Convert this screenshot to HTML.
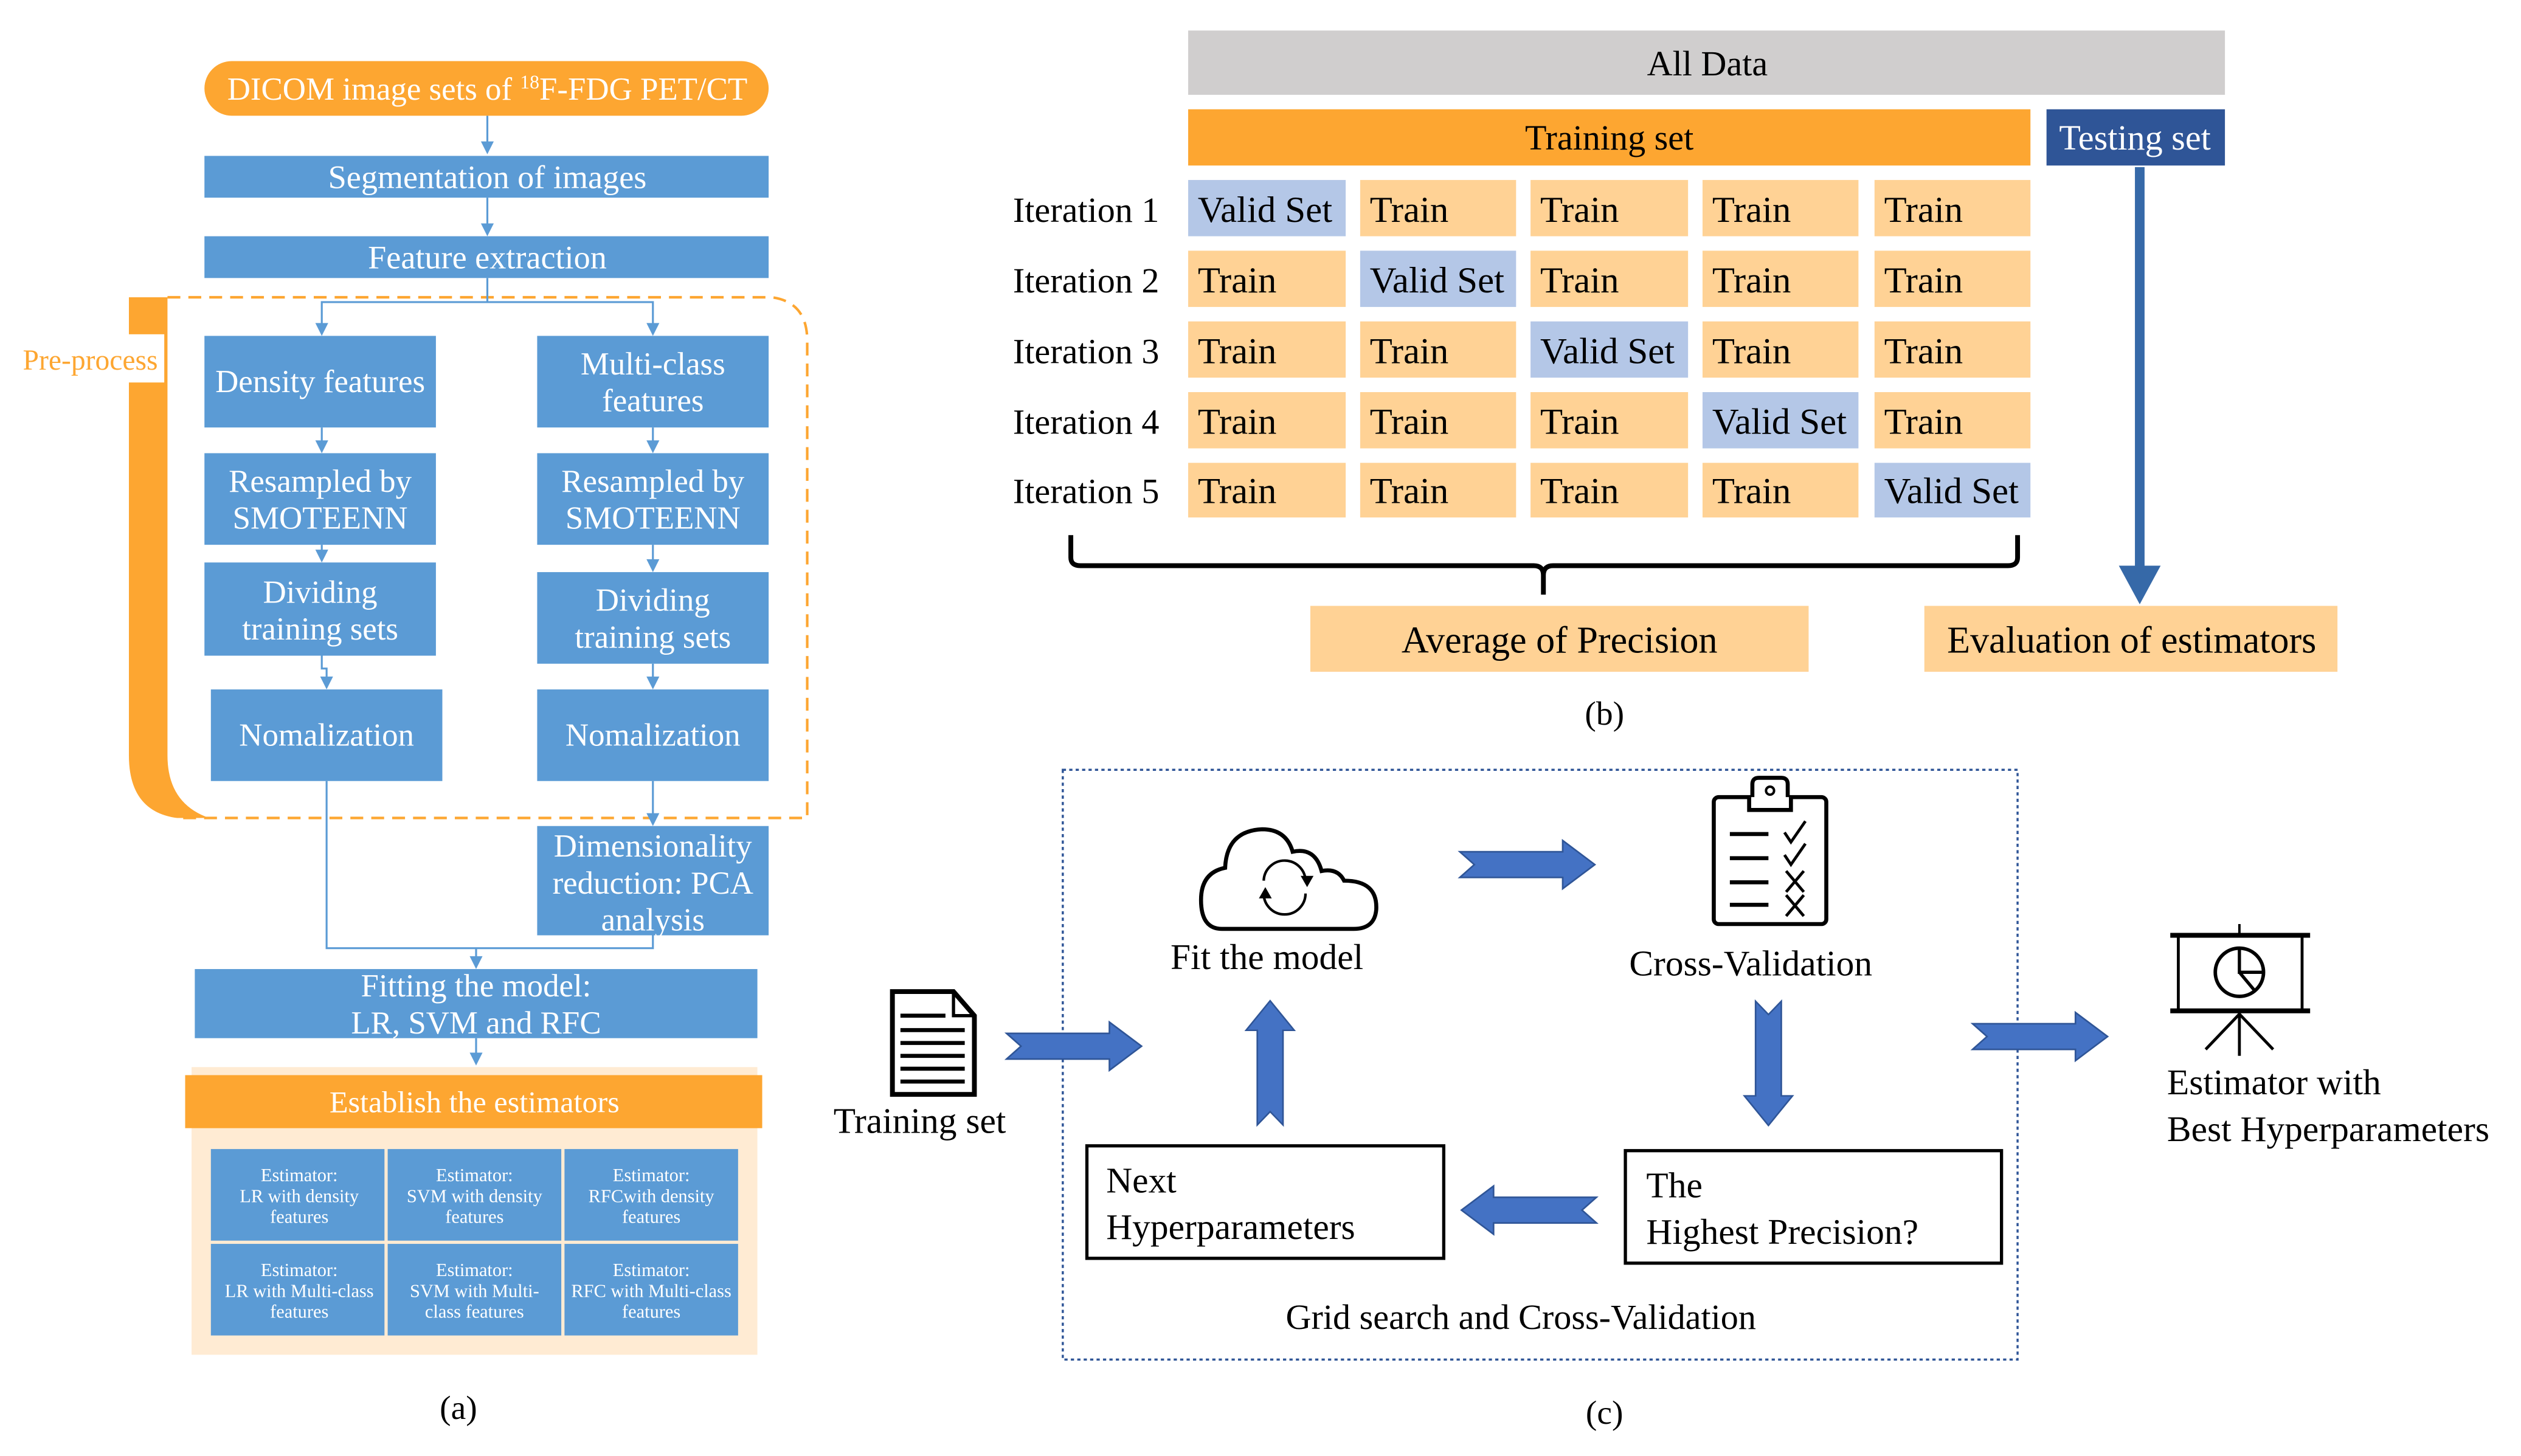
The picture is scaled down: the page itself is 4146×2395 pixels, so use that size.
<!DOCTYPE html>
<html><head><meta charset="utf-8"><style>
html,body{margin:0;padding:0;background:#fff;}
svg{display:block;}
.a{font-family:"Liberation Serif",serif;fill:#fff;text-anchor:middle;}
.b{font-family:"Liberation Serif",serif;fill:#000;}
</style></head><body>
<svg width="4146" height="2395" viewBox="0 0 1568 906" xmlns="http://www.w3.org/2000/svg">
<defs>
<path id="arr" d="M0,-8 L64,-8 L64,-15 L84,0 L64,15 L64,8 L0,8 L9,0 Z" fill="#4472C4" stroke="#2F5597" stroke-width="1"/>
</defs>

<!-- ===== Panel (a) ===== -->
<path d="M80,185 L104,185 L104,470 Q104,500 130,509 L110,509 Q80,505 80,470 Z" fill="#FDA631"/>
<path d="M104,185 L480,185 Q502,188 502,212 L502,509 L110,509" fill="none" stroke="#FDA631" stroke-width="1.6" stroke-dasharray="8,5"/>
<rect x="8" y="208" width="94" height="30" fill="#fff"/>
<text x="56" y="230" font-family="Liberation Serif,serif" font-size="18" fill="#FDA631" text-anchor="middle">Pre-process</text>

<g stroke="#5B9BD5" stroke-width="1.2" fill="none">
<line x1="303" y1="72" x2="303" y2="92"/>
<line x1="303" y1="123" x2="303" y2="142"/>
<polyline points="303,173 303,188 200,188 200,203"/>
<polyline points="303,188 406,188 406,203"/>
<line x1="200" y1="266" x2="200" y2="277"/>
<line x1="406" y1="266" x2="406" y2="277"/>
<line x1="200" y1="339" x2="200" y2="345"/>
<line x1="406" y1="339" x2="406" y2="351"/>
<polyline points="200,408 200,416 203,416 203,424"/>
<line x1="406" y1="413" x2="406" y2="424"/>
<line x1="406" y1="486" x2="406" y2="509"/>
<polyline points="203,486 203,590 406,590 406,582"/>
<line x1="296" y1="590" x2="296" y2="598"/>
<line x1="296" y1="646" x2="296" y2="658"/>
</g>
<g fill="#5B9BD5">
<path d="M299,88 L307,88 L303,96 Z"/>
<path d="M299,139 L307,139 L303,147 Z"/>
<path d="M196,201 L204,201 L200,209 Z"/>
<path d="M402,201 L410,201 L406,209 Z"/>
<path d="M196,274 L204,274 L200,282 Z"/>
<path d="M402,274 L410,274 L406,282 Z"/>
<path d="M196,342 L204,342 L200,350 Z"/>
<path d="M402,348 L410,348 L406,356 Z"/>
<path d="M199,421 L207,421 L203,429 Z"/>
<path d="M402,421 L410,421 L406,429 Z"/>
<path d="M402,506 L410,506 L406,514 Z"/>
<path d="M292,595 L300,595 L296,603 Z"/>
<path d="M292,655 L300,655 L296,663 Z"/>
</g>

<rect x="127" y="38" width="351" height="34" rx="17" fill="#FDA631"/>
<text class="a" x="303" y="62" font-size="20">DICOM image sets of <tspan font-size="12" dy="-7">18</tspan><tspan dy="7">F-FDG PET/CT</tspan></text>
<rect x="127" y="97" width="351" height="26" fill="#5B9BD5"/>
<text class="a" x="303" y="117" font-size="20.5">Segmentation of images</text>
<rect x="127" y="147" width="351" height="26" fill="#5B9BD5"/>
<text class="a" x="303" y="167" font-size="20.5">Feature extraction</text>

<rect x="127" y="209" width="144" height="57" fill="#5B9BD5"/>
<text class="a" x="199" y="244" font-size="20">Density features</text>
<rect x="334" y="209" width="144" height="57" fill="#5B9BD5"/>
<text class="a" x="406" y="233" font-size="20">Multi-class</text>
<text class="a" x="406" y="256" font-size="20">features</text>

<rect x="127" y="282" width="144" height="57" fill="#5B9BD5"/>
<text class="a" x="199" y="306" font-size="20">Resampled by</text>
<text class="a" x="199" y="329" font-size="20">SMOTEENN</text>
<rect x="334" y="282" width="144" height="57" fill="#5B9BD5"/>
<text class="a" x="406" y="306" font-size="20">Resampled by</text>
<text class="a" x="406" y="329" font-size="20">SMOTEENN</text>

<rect x="127" y="350" width="144" height="58" fill="#5B9BD5"/>
<text class="a" x="199" y="375" font-size="20">Dividing</text>
<text class="a" x="199" y="398" font-size="20">training sets</text>
<rect x="334" y="356" width="144" height="57" fill="#5B9BD5"/>
<text class="a" x="406" y="380" font-size="20">Dividing</text>
<text class="a" x="406" y="403" font-size="20">training sets</text>

<rect x="131" y="429" width="144" height="57" fill="#5B9BD5"/>
<text class="a" x="203" y="464" font-size="20">Nomalization</text>
<rect x="334" y="429" width="144" height="57" fill="#5B9BD5"/>
<text class="a" x="406" y="464" font-size="20">Nomalization</text>

<rect x="334" y="514" width="144" height="68" fill="#5B9BD5"/>
<text class="a" x="406" y="533" font-size="20">Dimensionality</text>
<text class="a" x="406" y="556" font-size="20">reduction: PCA</text>
<text class="a" x="406" y="579" font-size="20">analysis</text>

<rect x="121" y="603" width="350" height="43" fill="#5B9BD5"/>
<text class="a" x="296" y="620" font-size="20">Fitting the model:</text>
<text class="a" x="296" y="643" font-size="20">LR, SVM and RFC</text>

<rect x="119" y="664" width="352" height="179" fill="#FFEBD3"/>
<rect x="115" y="669" width="359" height="33" fill="#FDA631"/>
<text class="a" x="295" y="692" font-size="19">Establish the estimators</text>
<g fill="#5B9BD5">
<rect x="131" y="715" width="108" height="57"/><rect x="241" y="715" width="108" height="57"/><rect x="351" y="715" width="108" height="57"/>
<rect x="131" y="774" width="108" height="57"/><rect x="241" y="774" width="108" height="57"/><rect x="351" y="774" width="108" height="57"/>
</g>
<g class="a" font-size="11.5">
<text x="186" y="735">Estimator:</text><text x="186" y="748">LR with density</text><text x="186" y="761">features</text>
<text x="295" y="735">Estimator:</text><text x="295" y="748">SVM with density</text><text x="295" y="761">features</text>
<text x="405" y="735">Estimator:</text><text x="405" y="748">RFCwith density</text><text x="405" y="761">features</text>
<text x="186" y="794">Estimator:</text><text x="186" y="807">LR with Multi-class</text><text x="186" y="820">features</text>
<text x="295" y="794">Estimator:</text><text x="295" y="807">SVM with Multi-</text><text x="295" y="820">class features</text>
<text x="405" y="794">Estimator:</text><text x="405" y="807">RFC with Multi-class</text><text x="405" y="820">features</text>
</g>
<text class="b" x="285" y="883" font-size="21" text-anchor="middle">(a)</text>

<!-- ===== Panel (b) ===== -->
<rect x="739" y="19" width="645" height="40" fill="#D0CECE"/>
<text class="b" x="1062" y="47" font-size="22" text-anchor="middle">All Data</text>
<rect x="739" y="68" width="524" height="35" fill="#FDA631"/>
<text class="b" x="1001" y="93" font-size="22" text-anchor="middle">Training set</text>
<rect x="1273" y="68" width="111" height="35" fill="#2F5597"/>
<text x="1328" y="93" font-size="22" text-anchor="middle" font-family="Liberation Serif,serif" fill="#fff">Testing set</text>

<g font-family="Liberation Serif,serif" font-size="22" fill="#000">
<text x="630" y="138">Iteration 1</text>
<text x="630" y="182">Iteration 2</text>
<text x="630" y="226">Iteration 3</text>
<text x="630" y="270">Iteration 4</text>
<text x="630" y="313">Iteration 5</text>
</g>
<g>
<rect x="739" y="112" width="98" height="35" fill="#B4C7E7"/><rect x="846" y="112" width="97" height="35" fill="#FFD295"/><rect x="952" y="112" width="98" height="35" fill="#FFD295"/><rect x="1059" y="112" width="97" height="35" fill="#FFD295"/><rect x="1166" y="112" width="97" height="35" fill="#FFD295"/>
<rect x="739" y="156" width="98" height="35" fill="#FFD295"/><rect x="846" y="156" width="97" height="35" fill="#B4C7E7"/><rect x="952" y="156" width="98" height="35" fill="#FFD295"/><rect x="1059" y="156" width="97" height="35" fill="#FFD295"/><rect x="1166" y="156" width="97" height="35" fill="#FFD295"/>
<rect x="739" y="200" width="98" height="35" fill="#FFD295"/><rect x="846" y="200" width="97" height="35" fill="#FFD295"/><rect x="952" y="200" width="98" height="35" fill="#B4C7E7"/><rect x="1059" y="200" width="97" height="35" fill="#FFD295"/><rect x="1166" y="200" width="97" height="35" fill="#FFD295"/>
<rect x="739" y="244" width="98" height="35" fill="#FFD295"/><rect x="846" y="244" width="97" height="35" fill="#FFD295"/><rect x="952" y="244" width="98" height="35" fill="#FFD295"/><rect x="1059" y="244" width="97" height="35" fill="#B4C7E7"/><rect x="1166" y="244" width="97" height="35" fill="#FFD295"/>
<rect x="739" y="288" width="98" height="34" fill="#FFD295"/><rect x="846" y="288" width="97" height="34" fill="#FFD295"/><rect x="952" y="288" width="98" height="34" fill="#FFD295"/><rect x="1059" y="288" width="97" height="34" fill="#FFD295"/><rect x="1166" y="288" width="97" height="34" fill="#B4C7E7"/>
</g>
<g font-family="Liberation Serif,serif" font-size="23" fill="#000">
<text x="745" y="138">Valid Set</text><text x="852" y="138">Train</text><text x="958" y="138">Train</text><text x="1065" y="138">Train</text><text x="1172" y="138">Train</text>
<text x="745" y="182">Train</text><text x="852" y="182">Valid Set</text><text x="958" y="182">Train</text><text x="1065" y="182">Train</text><text x="1172" y="182">Train</text>
<text x="745" y="226">Train</text><text x="852" y="226">Train</text><text x="958" y="226">Valid Set</text><text x="1065" y="226">Train</text><text x="1172" y="226">Train</text>
<text x="745" y="270">Train</text><text x="852" y="270">Train</text><text x="958" y="270">Train</text><text x="1065" y="270">Valid Set</text><text x="1172" y="270">Train</text>
<text x="745" y="313">Train</text><text x="852" y="313">Train</text><text x="958" y="313">Train</text><text x="1065" y="313">Train</text><text x="1172" y="313">Valid Set</text>
</g>
<path d="M666,333 L666,347 Q666,352 672,352 L954,352 Q960,352 960,358 L960,370 M960,358 Q960,352 966,352 L1249,352 Q1255,352 1255,347 L1255,333" fill="none" stroke="#000" stroke-width="3"/>
<line x1="1331" y1="104" x2="1331" y2="355" stroke="#3669A8" stroke-width="6"/>
<path d="M1318,352 L1344,352 L1331,376 Z" fill="#3669A8"/>
<rect x="815" y="377" width="310" height="41" fill="#FFD295"/>
<text class="b" x="970" y="406" font-size="23.5" text-anchor="middle">Average of Precision</text>
<rect x="1197" y="377" width="257" height="41" fill="#FFD295"/>
<text class="b" x="1326" y="406" font-size="23.5" text-anchor="middle">Evaluation of estimators</text>
<text class="b" x="998" y="451" font-size="21" text-anchor="middle">(b)</text>

<!-- ===== Panel (c) ===== -->
<rect x="661" y="479" width="594" height="367" fill="none" stroke="#2F5597" stroke-width="1.3" stroke-dasharray="2,2"/>
<path d="M760,578 Q747,578 747,560 Q747,543 762,540 Q763,517 785,516 Q800,516 804,530 Q818,527 822,542 Q832,540 836,548 Q857,548 856,566 Q855,578 842,578 Z" fill="none" stroke="#000" stroke-width="2.5"/>
<path d="M786,548 A12,12 0 0 1 812,549 M812,556 A12,12 0 0 1 786,556" fill="none" stroke="#000" stroke-width="1.6"/>
<path d="M809,545 L813,552 L817,545 Z M783,559 L787,552 L791,559 Z" fill="#000"/>
<text class="b" x="788" y="603" font-size="22.5" text-anchor="middle">Fit the model</text>
<rect x="1066" y="496" width="70" height="79" rx="3" fill="none" stroke="#000" stroke-width="2.5"/>
<path d="M1090,496 L1090,488 Q1090,484 1094,484 L1108,484 Q1112,484 1112,488 L1112,496 M1088,496 L1088,504 L1114,504 L1114,496" fill="#fff" stroke="#000" stroke-width="2.5"/>
<circle cx="1101" cy="492" r="2.5" fill="none" stroke="#000" stroke-width="1.5"/>
<g stroke="#000" stroke-width="2.5" fill="none">
<line x1="1076" y1="519" x2="1100" y2="519"/><line x1="1076" y1="534" x2="1100" y2="534"/><line x1="1076" y1="549" x2="1100" y2="549"/><line x1="1076" y1="563" x2="1100" y2="563"/>
</g>
<g stroke="#000" stroke-width="1.8" fill="none">
<polyline points="1110,518 1114,524 1123,511"/><polyline points="1110,532 1114,538 1123,525"/>
<path d="M1111,542 L1122,555 M1122,542 L1111,555 M1111,557 L1122,570 M1122,557 L1111,570"/>
</g>
<text class="b" x="1089" y="607" font-size="22.5" text-anchor="middle">Cross-Validation</text>
<use href="#arr" transform="translate(908,538)"/>
<use href="#arr" transform="translate(993,753) rotate(180)"/>
<use href="#arr" transform="translate(1100,623) rotate(90) scale(0.92,1)"/>
<use href="#arr" transform="translate(790,700) rotate(-90) scale(0.92,1)"/>
<use href="#arr" transform="translate(626,651)"/>
<use href="#arr" transform="translate(1227,645)"/>
<rect x="676" y="713" width="222" height="70" fill="#fff" stroke="#000" stroke-width="2"/>
<text class="b" x="688" y="742" font-size="22.5">Next</text>
<text class="b" x="688" y="771" font-size="22.5">Hyperparameters</text>
<rect x="1011" y="716" width="234" height="70" fill="#fff" stroke="#000" stroke-width="2"/>
<text class="b" x="1024" y="745" font-size="22.5">The</text>
<text class="b" x="1024" y="774" font-size="22.5">Highest Precision?</text>
<text class="b" x="946" y="827" font-size="22" text-anchor="middle">Grid search and Cross-Validation</text>
<path d="M555,617 L593,617 L606,632 L606,681 L555,681 Z" fill="#fff" stroke="#000" stroke-width="3"/>
<path d="M593,617 L593,632 L606,632" fill="none" stroke="#000" stroke-width="2"/>
<g stroke="#000" stroke-width="2.5"><line x1="560" y1="632" x2="588" y2="632"/><line x1="560" y1="641" x2="600" y2="641"/><line x1="560" y1="649" x2="600" y2="649"/><line x1="560" y1="657" x2="600" y2="657"/><line x1="560" y1="665" x2="600" y2="665"/><line x1="560" y1="673" x2="600" y2="673"/></g>
<text class="b" x="572" y="705" font-size="22.5" text-anchor="middle">Training set</text>
<line x1="1350" y1="582" x2="1437" y2="582" stroke="#000" stroke-width="3"/>
<line x1="1350" y1="629" x2="1437" y2="629" stroke="#000" stroke-width="3"/>
<rect x="1355" y="582" width="77" height="47" fill="none" stroke="#000" stroke-width="1.8"/>
<line x1="1393" y1="575" x2="1393" y2="582" stroke="#000" stroke-width="1.5"/>
<circle cx="1393" cy="605" r="15" fill="none" stroke="#000" stroke-width="2.2"/>
<path d="M1393,590 L1393,605 L1408,605 M1393,605 L1403,617" fill="none" stroke="#000" stroke-width="2"/>
<path d="M1393,629 L1393,657 M1393,631 L1372,653 M1393,631 L1414,653" stroke="#000" stroke-width="1.8" fill="none"/>
<text class="b" x="1348" y="681" font-size="22.5">Estimator with</text>
<text class="b" x="1348" y="710" font-size="22.5">Best Hyperparameters</text>
<text class="b" x="998" y="886" font-size="21" text-anchor="middle">(c)</text>
</svg>
</body></html>
